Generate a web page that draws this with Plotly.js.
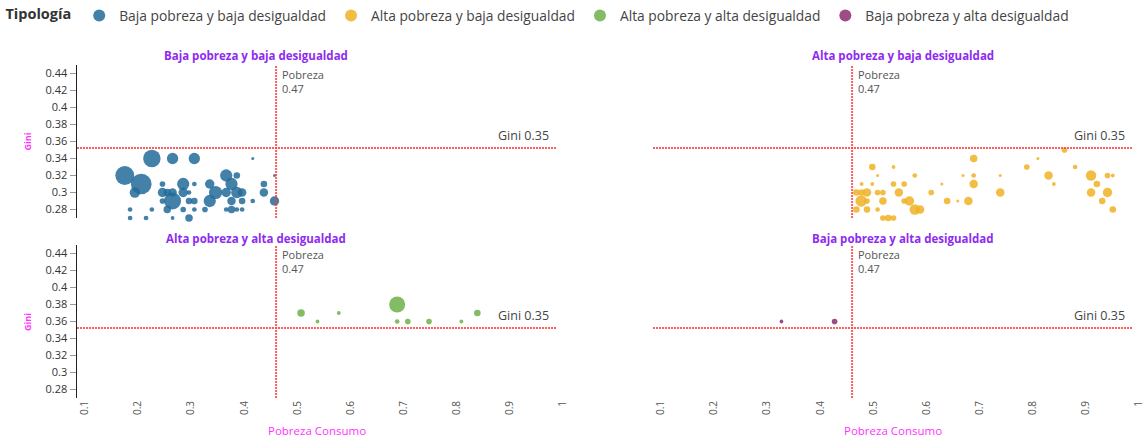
<!DOCTYPE html>
<html>
<head>
<meta charset="utf-8">
<script src="https://cdn.plot.ly/plotly-3.0.1.min.js"></script>
<style>html,body{margin:0;padding:0;background:#fff;}#chart{width:1146px;height:439px;}</style>
</head>
<body>
<div id="chart"></div>
<script>
// ---- Data ----
const categorias = ['Baja pobreza y baja desigualdad', 'Alta pobreza y baja desigualdad', 'Alta pobreza y alta desigualdad', 'Baja pobreza y alta desigualdad'];

const umbralPobreza = 0.46;
const umbralGini = 0.3525;
const etiquetaPobreza = 'Pobreza<br>0.47';
const etiquetaGini = 'Gini 0.35';

// Baja pobreza y baja desigualdad
const bbPobreza = [0.226,0.265,0.306,0.416, 0.175,0.366,0.386,0.457, 0.206,0.246,0.285,0.306,0.335,0.376,0.437,
  0.194,0.246,0.255,0.265,0.285,0.296,0.346,0.366,0.386,0.396,0.437,
  0.246,0.265,0.296,0.306,0.335,0.376,0.396,0.416,0.457,
  0.185,0.226,0.255,0.285,0.306,0.326,0.366,0.376,0.386,0.396,
  0.185,0.215,0.265,0.296];
const bbGini = [0.34,0.34,0.34,0.34, 0.32,0.32,0.32,0.32, 0.31,0.31,0.31,0.31,0.31,0.31,0.31,
  0.30,0.30,0.30,0.30,0.30,0.30,0.30,0.30,0.30,0.30,0.30,
  0.29,0.29,0.29,0.29,0.29,0.29,0.29,0.29,0.29,
  0.28,0.28,0.28,0.28,0.28,0.28,0.28,0.28,0.28,0.28,
  0.27,0.27,0.27,0.27];
const bbPeso = [342,144,144,9, 400,169,49,4, 484,36,169,25,100,169,49,
  121,100,64,81,100,25,196,100,144,81,81,
  36,324,49,49,169,81,49,25,100,
  25,25,64,36,25,36,25,64,25,25,
  25,25,16,64];

// Alta pobreza y baja desigualdad
const abPobreza = [0.860, 0.689,0.810, 0.498,0.538,0.789,0.880,
  0.508,0.578,0.669,0.689,0.739,0.830,0.910,0.941,0.951,
  0.478,0.498,0.538,0.558,0.629,0.689,0.840,0.921,
  0.468,0.478,0.488,0.508,0.518,0.548,0.609,0.739,0.910,0.941,
  0.477,0.488,0.518,0.558,0.568,0.639,0.659,0.679,0.931,
  0.468,0.488,0.508,0.578,0.588,0.951,
  0.518,0.528,0.538];
const abGini = [0.35, 0.34,0.34, 0.33,0.33,0.33,0.33,
  0.32,0.32,0.32,0.32,0.32,0.32,0.32,0.32,0.32,
  0.31,0.31,0.31,0.31,0.31,0.31,0.31,0.31,
  0.30,0.30,0.30,0.30,0.30,0.30,0.30,0.30,0.30,0.30,
  0.29,0.29,0.29,0.29,0.29,0.29,0.29,0.29,0.29,
  0.28,0.28,0.28,0.28,0.28,0.28,
  0.27,0.27,0.27];
const abPeso = [36, 64,9, 49,16,36,25,
  9,25,9,25,9,81,121,36,16,
  16,16,36,36,9,81,16,49,
  49,49,81,36,36,81,36,81,81,100,
  144,36,64,36,100,49,9,81,49,
  49,49,25,121,81,49,
  36,49,36];

// Alta pobreza y alta desigualdad
const aaPobreza = [0.507,0.538,0.578,0.688,0.688,0.708,0.748,0.809,0.839];
const aaGini = [0.37,0.36,0.37,0.38,0.36,0.36,0.36,0.36,0.37];
const aaPeso = [64,16,16,289,25,36,36,16,49];

// Baja pobreza y alta desigualdad
const baPobreza = [0.327,0.427];
const baGini = [0.36,0.36];
const baPeso = [16,36];

const colores = ['#226b99', '#f0b224', '#6db04a', '#8c2d6f'];

// ---- Chart ----
const W = 1146, H = 439;
const px = v => v / W;
const py = v => 1 - v / H;

const xRange = [0.085, 1.006];
const yRange = [0.27, 0.45];
const xLeft = [px(77), px(566)];
const xRight = [px(653), px(1142)];
const yTop = [py(218), py(65)];
const yBot = [py(398), py(245)];

function serie(i, xs, ys, ss, ax) {
  return {
    type: 'scatter', mode: 'markers', name: categorias[i],
    x: xs, y: ys, xaxis: 'x' + ax, yaxis: 'y' + ax, cliponaxis: false,
    marker: {color: colores[i], opacity: 0.85, size: ss, sizemode: 'area', sizeref: 2.25, sizemin: 1.5, line: {width: 0}},
    hoverinfo: 'skip'
  };
}

const data = [
  serie(0, bbPobreza, bbGini, bbPeso, ''),
  serie(1, abPobreza, abGini, abPeso, '2'),
  serie(2, aaPobreza, aaGini, aaPeso, '3'),
  serie(3, baPobreza, baGini, baPeso, '4')
];

const fontFam = '"Open Sans", "Noto Sans", sans-serif';

function xa(domain, anchor, labels) {
  return {
    domain: domain, anchor: anchor, range: xRange, showgrid: false, zeroline: false, showline: false,
    ticks: '', tick0: 0.1, dtick: 0.1, showticklabels: labels, tickangle: -90, ticklabeloverflow: 'allow',
    tickfont: {size: 10, color: '#555', family: fontFam}
  };
}
function ya(domain, anchor, visible) {
  return {
    domain: domain, anchor: anchor, range: yRange, showgrid: false, zeroline: false,
    visible: visible, showline: true, linecolor: '#222', linewidth: 1.5,
    ticks: 'outside', ticklen: 6, tickwidth: 1.5, tickcolor: '#999',
    tick0: 0.28, dtick: 0.02, tickfont: {size: 11, color: '#333', family: fontFam}
  };
}

const shapes = [];
const annotations = [];
const refLine = {color: 'rgba(255,55,55,0.8)', width: 2, dash: '2px,1px'};
['', '2', '3', '4'].forEach(ax => {
  shapes.push({type: 'line', xref: 'x' + ax, yref: 'y' + ax, x0: umbralPobreza, x1: umbralPobreza, y0: yRange[0], y1: yRange[1], line: refLine});
  shapes.push({type: 'line', xref: 'x' + ax, yref: 'y' + ax, x0: xRange[0], x1: 0.989, y0: umbralGini, y1: umbralGini, line: refLine});
  annotations.push({xref: 'x' + ax, yref: 'y' + ax, x: umbralPobreza, y: yRange[1], xanchor: 'left', yanchor: 'top', xshift: 4,
    text: etiquetaPobreza, showarrow: false, align: 'left', font: {size: 11, color: '#555', family: fontFam}});
  annotations.push({xref: 'x' + ax, yref: 'y' + ax, x: 0.977, y: umbralGini, xanchor: 'right', yanchor: 'bottom', yshift: 2,
    text: etiquetaGini, showarrow: false, font: {size: 12.5, color: '#444', family: fontFam}});
});

const titlePos = [[256, 56], [903, 56], [256, 238], [903, 238]];
titlePos.forEach((p, i) => {
  annotations.push({xref: 'paper', yref: 'paper', x: px(p[0]), y: py(p[1]), xanchor: 'center', yanchor: 'middle',
    text: '<b>' + categorias[i] + '</b>', showarrow: false, font: {size: 11.5, color: '#8f2bf0', family: fontFam}});
});
[[27, 141.5], [27, 322]].forEach(p => {
  annotations.push({xref: 'paper', yref: 'paper', x: px(p[0]), y: py(p[1]), xanchor: 'center', yanchor: 'middle', textangle: -90,
    text: '<b>Gini</b>', showarrow: false, font: {size: 9, color: '#ff33ff', family: fontFam}});
});
[[317, 430], [893, 430]].forEach(p => {
  annotations.push({xref: 'paper', yref: 'paper', x: px(p[0]), y: py(p[1]), xanchor: 'center', yanchor: 'middle',
    text: 'Pobreza Consumo', showarrow: false, font: {size: 11.5, color: '#ff33ff', family: fontFam}});
});

const layout = {
  width: W, height: H, autosize: false,
  margin: {l: 0, r: 0, t: 0, b: 0},
  paper_bgcolor: '#fff', plot_bgcolor: '#fff',
  font: {family: fontFam},
  showlegend: true,
  legend: {orientation: 'h', x: 0.003, y: 1, xanchor: 'left', yanchor: 'top',
    title: {text: '<b>Tipología</b>', font: {size: 14.5, color: '#333', family: fontFam}},
    font: {size: 13.8, color: '#444', family: fontFam}, itemsizing: 'constant', itemwidth: 30, tracegroupgap: 0},
  xaxis: xa(xLeft, 'y', false), yaxis: ya(yTop, 'x', true),
  xaxis2: xa(xRight, 'y2', false), yaxis2: ya(yTop, 'x2', false),
  xaxis3: xa(xLeft, 'y3', true), yaxis3: ya(yBot, 'x3', true),
  xaxis4: xa(xRight, 'y4', true), yaxis4: ya(yBot, 'x4', false),
  shapes: shapes, annotations: annotations
};

Plotly.newPlot('chart', data, layout, {displayModeBar: false, staticPlot: true});
</script>
</body>
</html>
